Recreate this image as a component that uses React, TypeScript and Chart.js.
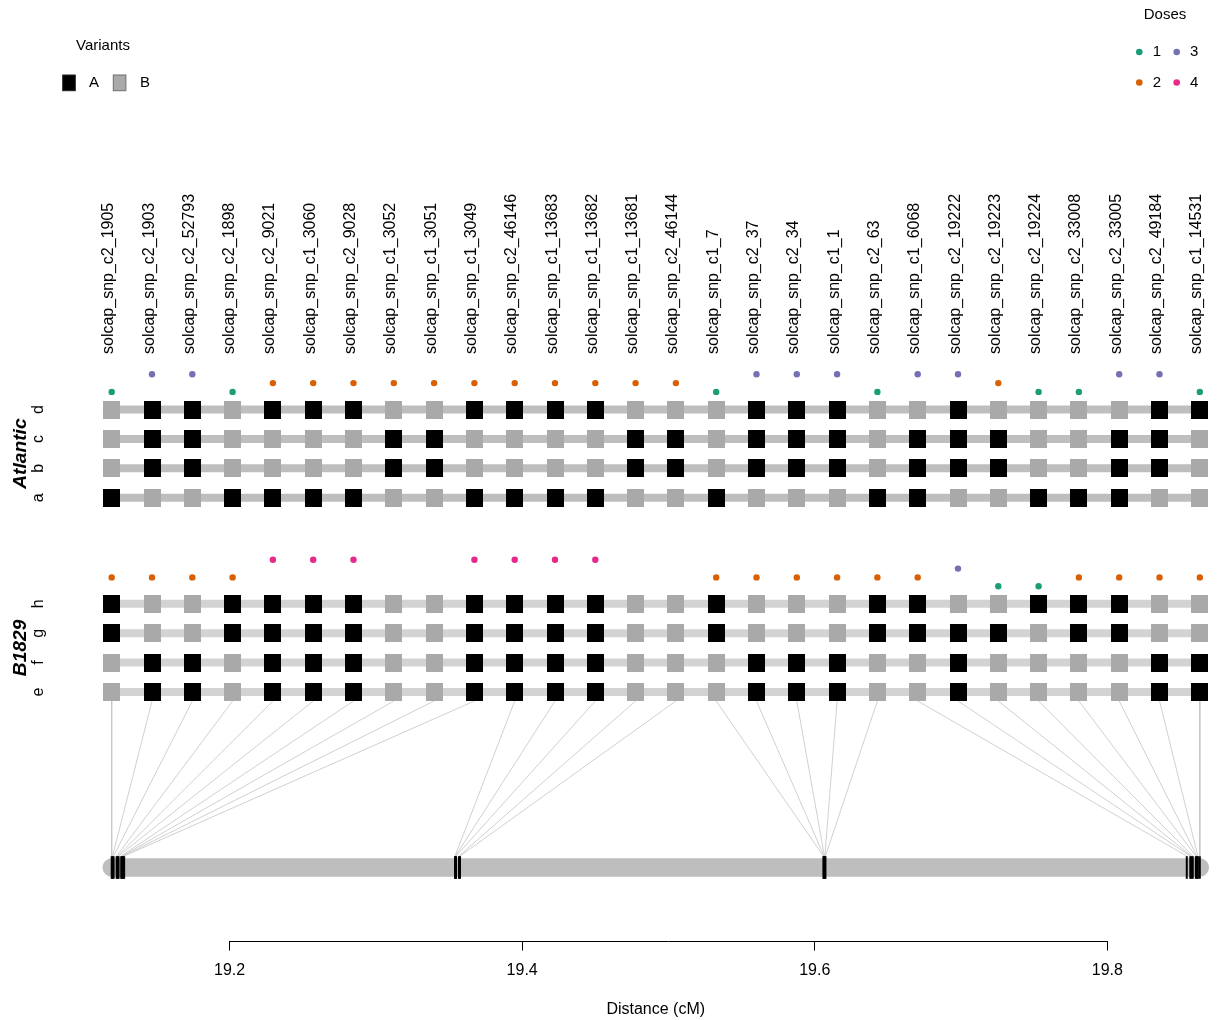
import React, { useEffect, useRef } from 'react';
import { Chart, registerables } from 'chart.js';

Chart.register(...registerables);

// ---------------- data ----------------
const MARKERS = [
  'solcap_snp_c2_1905', 'solcap_snp_c2_1903', 'solcap_snp_c2_52793', 'solcap_snp_c2_1898',
  'solcap_snp_c2_9021', 'solcap_snp_c1_3060', 'solcap_snp_c2_9028', 'solcap_snp_c1_3052',
  'solcap_snp_c1_3051', 'solcap_snp_c1_3049', 'solcap_snp_c2_46146', 'solcap_snp_c1_13683',
  'solcap_snp_c1_13682', 'solcap_snp_c1_13681', 'solcap_snp_c2_46144', 'solcap_snp_c1_7',
  'solcap_snp_c2_37', 'solcap_snp_c2_34', 'solcap_snp_c1_1', 'solcap_snp_c2_63',
  'solcap_snp_c1_6068', 'solcap_snp_c2_19222', 'solcap_snp_c2_19223', 'solcap_snp_c2_19224',
  'solcap_snp_c2_33008', 'solcap_snp_c2_33005', 'solcap_snp_c2_49184', 'solcap_snp_c1_14531',
];

// genetic positions (cM)
const POSITIONS_CM = [
  19.1194, 19.12, 19.1207, 19.1228, 19.1235, 19.1241, 19.1259, 19.1265, 19.1272, 19.1279,
  19.3541, 19.3544, 19.3548, 19.3568, 19.3575,
  19.6059, 19.6063, 19.6066, 19.6069, 19.6073,
  19.8543, 19.8567, 19.8574, 19.8584, 19.8605, 19.8612, 19.8619, 19.8632,
];

// haplotypes: 1 = variant A, 0 = variant B
// Atlantic
const HAP_D = [0,1,1,0,1,1,1,0,0,1,1,1,1,0,0,0,1,1,1,0,0,1,0,0,0,0,1,1];
const HAP_C = [0,1,1,0,0,0,0,1,1,0,0,0,0,1,1,0,1,1,1,0,1,1,1,0,0,1,1,0];
const HAP_B = [0,1,1,0,0,0,0,1,1,0,0,0,0,1,1,0,1,1,1,0,1,1,1,0,0,1,1,0];
const HAP_A = [1,0,0,1,1,1,1,0,0,1,1,1,1,0,0,1,0,0,0,1,1,0,0,1,1,1,0,0];
// B1829
const HAP_H = [1,0,0,1,1,1,1,0,0,1,1,1,1,0,0,1,0,0,0,1,1,0,0,1,1,1,0,0];
const HAP_G = [1,0,0,1,1,1,1,0,0,1,1,1,1,0,0,1,0,0,0,1,1,1,1,0,1,1,0,0];
const HAP_F = [0,1,1,0,1,1,1,0,0,1,1,1,1,0,0,0,1,1,1,0,0,1,0,0,0,0,1,1];
const HAP_E = [0,1,1,0,1,1,1,0,0,1,1,1,1,0,0,0,1,1,1,0,0,1,0,0,0,0,1,1];

const DOSE_ATLANTIC = [1,3,3,1,2,2,2,2,2,2,2,2,2,2,2,1,3,3,3,1,3,3,2,1,1,3,3,1];
const DOSE_B1829 = [2,2,2,2,4,4,4,0,0,4,4,4,4,0,0,2,2,2,2,2,2,3,1,1,2,2,2,2];

const AXIS_TICKS = [19.2, 19.4, 19.6, 19.8];
const DOSE_LEVELS = [1, 2, 3, 4];
const VARIANT_LABELS = ['A', 'B'];
const PARENT_NAMES = ['Atlantic', 'B1829'];
const ATLANTIC_ROWS = ['d', 'c', 'b', 'a'];
const B1829_ROWS = ['h', 'g', 'f', 'e'];

// ---------------- styles / layout ----------------
const FONT = '"Liberation Sans", Arial, Helvetica, sans-serif';
const DOSE_COLORS: Record<number, string> = { 1: '#1B9E77', 2: '#D95F02', 3: '#7570B3', 4: '#E7298A' };
const COLOR_A = '#000000';
const COLOR_B = '#A9A9A9';
const LAYOUT = {
  atlRowY: [409.5, 438.9, 468.3, 497.7],
  b18RowY: [603.8, 633.2, 662.6, 692],
  doseStep: 8.8,
  fanTop: 701,
  fanBottom: 856,
  chromY: 867.5,
  axisY: 941,
  labelBottomY: 354,
};

function makeSquare(color: string) {
  const c = document.createElement('canvas');
  c.width = 17;
  c.height = 18;
  const g = c.getContext('2d')!;
  g.fillStyle = color;
  g.fillRect(0, 0, 17, 18);
  return c;
}

export default function App() {
  const ref = useRef<HTMLCanvasElement>(null);

  useEffect(() => {
    const canvas = ref.current!;
    const sqA = makeSquare(COLOR_A);
    const sqB = makeSquare(COLOR_B);
    const n = MARKERS.length;
    const idx = MARKERS.map((_, i) => i);
    const cmMin = POSITIONS_CM[0];
    const cmMax = POSITIONS_CM[n - 1];
    const cmToIdx = (cm: number) => ((cm - cmMin) / (cmMax - cmMin)) * (n - 1);

    const datasets: any[] = [];

    const addPopulation = (haps: number[][], rowsY: number[], barColor: string, doses: number[]) => {
      haps.forEach((hap, r) => {
        const y = rowsY[r];
        datasets.push({
          data: [{ x: 0, y }, { x: n - 1, y }],
          showLine: true, borderColor: barColor, borderWidth: 8, pointRadius: 0,
          order: 20, clip: false,
        });
        datasets.push({
          data: idx.map((i) => ({ x: i, y })),
          showLine: false,
          pointStyle: hap.map((v) => (v ? sqA : sqB)),
          pointRadius: 9, pointBorderWidth: 0,
          order: 5, clip: false,
        });
      });
      const top = rowsY[0];
      const pts = idx.filter((i) => doses[i] > 0);
      datasets.push({
        data: pts.map((i) => ({ x: i, y: top - LAYOUT.doseStep * (doses[i] + 1) })),
        showLine: false,
        pointRadius: 3.2, pointBorderWidth: 0,
        pointBackgroundColor: pts.map((i) => DOSE_COLORS[doses[i]]),
        order: 5, clip: false,
      });
    };

    addPopulation([HAP_D, HAP_C, HAP_B, HAP_A], LAYOUT.atlRowY, '#BEBEBE', DOSE_ATLANTIC);
    addPopulation([HAP_H, HAP_G, HAP_F, HAP_E], LAYOUT.b18RowY, '#D3D3D3', DOSE_B1829);

    // fan lines from haplotype columns to map positions
    idx.forEach((i) => {
      datasets.push({
        data: [{ x: i, y: LAYOUT.fanTop }, { x: cmToIdx(POSITIONS_CM[i]), y: LAYOUT.fanBottom }],
        showLine: true, borderColor: '#C4C4C4', borderWidth: 0.8, pointRadius: 0,
        order: 20, clip: false,
      });
    });

    // chromosome
    datasets.push({
      xAxisID: 'xcm',
      data: [{ x: cmMin, y: LAYOUT.chromY }, { x: cmMax, y: LAYOUT.chromY }],
      showLine: true, borderColor: '#BEBEBE', borderWidth: 18.5, borderCapStyle: 'round',
      pointRadius: 0, order: 15, clip: false,
    });
    // marker ticks on chromosome
    datasets.push({
      xAxisID: 'xcm',
      data: POSITIONS_CM.map((p) => ({ x: p, y: LAYOUT.chromY })),
      showLine: false, pointStyle: 'line', pointRotation: 90, pointRadius: 11.3,
      pointBorderWidth: 2, pointBorderColor: '#000000', order: 5, clip: false,
    });
    // axis line (between first and last tick)
    datasets.push({
      xAxisID: 'xcm',
      data: [
        { x: AXIS_TICKS[0], y: LAYOUT.axisY + 0.5 },
        { x: AXIS_TICKS[AXIS_TICKS.length - 1], y: LAYOUT.axisY + 0.5 },
      ],
      showLine: true, borderColor: '#000000', borderWidth: 1, pointRadius: 0, order: 5, clip: false,
    });

    const textPlugin = {
      id: 'haploText',
      afterDraw(chart: any) {
        const ctx = chart.ctx as CanvasRenderingContext2D;
        const xs = chart.scales.x;
        const ys = chart.scales.y;
        ctx.save();
        ctx.fillStyle = '#000';

        // marker names
        ctx.font = `16px ${FONT}`;
        MARKERS.forEach((name, i) => {
          ctx.save();
          ctx.translate(xs.getPixelForValue(i) + 1.5, ys.getPixelForValue(LAYOUT.labelBottomY));
          ctx.rotate(-Math.PI / 2);
          ctx.textAlign = 'left';
          ctx.textBaseline = 'alphabetic';
          ctx.fillText(name, 0, 0);
          ctx.restore();
        });

        // homolog letters
        const drawRot = (txt: string, x: number, y: number, font: string) => {
          ctx.save();
          ctx.translate(x, y);
          ctx.rotate(-Math.PI / 2);
          ctx.font = font;
          ctx.textAlign = 'center';
          ctx.textBaseline = 'alphabetic';
          ctx.fillText(txt, 0, 0);
          ctx.restore();
        };
        ATLANTIC_ROWS.forEach((l, r) => drawRot(l, 43.3, ys.getPixelForValue(LAYOUT.atlRowY[r]), `16px ${FONT}`));
        B1829_ROWS.forEach((l, r) => drawRot(l, 43.3, ys.getPixelForValue(LAYOUT.b18RowY[r]), `16px ${FONT}`));
        const midA = (LAYOUT.atlRowY[0] + LAYOUT.atlRowY[3]) / 2;
        const midB = (LAYOUT.b18RowY[0] + LAYOUT.b18RowY[3]) / 2;
        drawRot(PARENT_NAMES[0], 26, ys.getPixelForValue(midA), `italic bold 19.2px ${FONT}`);
        drawRot(PARENT_NAMES[1], 26, ys.getPixelForValue(midB), `italic bold 19.2px ${FONT}`);

        // Variants legend
        ctx.font = `15px ${FONT}`;
        ctx.textAlign = 'center';
        ctx.textBaseline = 'middle';
        ctx.fillText('Variants', 103, 46);
        const legendSq = [
          { x: 62.7, color: COLOR_A, stroke: '#222222', tx: 94 },
          { x: 113.3, color: COLOR_B, stroke: '#6E6E6E', tx: 145 },
        ];
        legendSq.forEach((s, k) => {
          ctx.fillStyle = s.color;
          ctx.fillRect(s.x, 75, 12.6, 15.7);
          ctx.strokeStyle = s.stroke;
          ctx.lineWidth = 1;
          ctx.strokeRect(s.x, 75, 12.6, 15.7);
          ctx.fillStyle = '#000';
          ctx.fillText(VARIANT_LABELS[k], s.tx, 83);
        });

        // Doses legend
        ctx.fillText('Doses', 1165, 15);
        const dosePos: Record<number, [number, number]> = {
          1: [1139.3, 52], 3: [1176.7, 52], 2: [1139.3, 82.5], 4: [1176.7, 82.5],
        };
        DOSE_LEVELS.forEach((d) => {
          const [dx, dy] = dosePos[d];
          ctx.beginPath();
          ctx.fillStyle = DOSE_COLORS[d];
          ctx.arc(dx, dy, 3.3, 0, Math.PI * 2);
          ctx.fill();
          ctx.fillStyle = '#000';
          ctx.fillText(String(d), dx + 17.5, dy);
        });
        ctx.restore();
      },
    };

    const chart = new Chart(canvas, {
      type: 'scatter',
      data: { datasets },
      options: {
        animation: false,
        responsive: false,
        devicePixelRatio: 1,
        events: [],
        layout: { autoPadding: false, padding: { left: 111.7, right: 21.2, top: 0, bottom: 0 } },
        plugins: { legend: { display: false }, tooltip: { enabled: false } },
        scales: {
          x: { type: 'linear', min: 0, max: n - 1, display: false },
          y: { type: 'linear', min: 0, max: 1020, reverse: true, display: false },
          xcm: {
            type: 'linear',
            axis: 'x',
            position: { y: LAYOUT.axisY },
            min: cmMin,
            max: cmMax,
            border: { display: false },
            grid: { drawOnChartArea: false, drawTicks: true, tickLength: 9.6, color: '#000', lineWidth: 1 },
            afterBuildTicks: (s: any) => {
              s.ticks = AXIS_TICKS.map((v) => ({ value: v }));
            },
            ticks: {
              autoSkip: false, maxRotation: 0, padding: 10.5, color: '#000',
              font: { family: FONT, size: 16 },
              callback: (v: any) => Number(v).toFixed(1),
            },
            title: {
              display: true, text: 'Distance (cM)', color: '#000',
              font: { family: FONT, size: 16 },
              padding: { top: 9.6, bottom: 0 },
            },
          } as any,
        },
      },
      plugins: [textPlugin],
    } as any);

    return () => chart.destroy();
  }, []);

  return (
    <div style={{ position: 'fixed', left: 0, top: 0, width: 1221, height: 1020, background: '#fff' }}>
      <canvas ref={ref} width={1221} height={1020} style={{ display: 'block' }} />
    </div>
  );
}
